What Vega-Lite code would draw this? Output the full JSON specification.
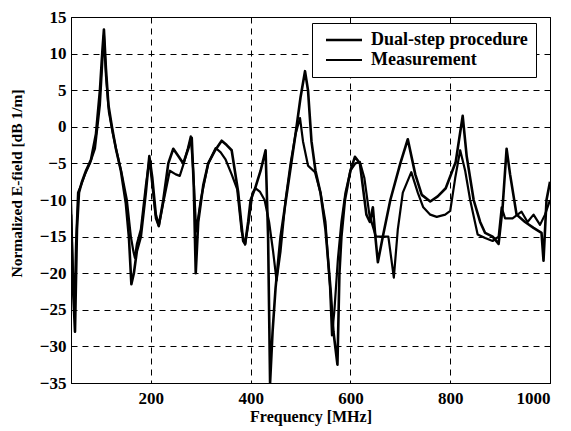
{
  "$schema": "https://vega.github.io/schema/vega-lite/v6.json",
  "width": 479,
  "height": 366,
  "autosize": {"type": "none"},
  "padding": {"left": 71, "top": 17, "right": 21, "bottom": 48},
  "background": "white",
  "config": {
    "view": {"stroke": "black", "strokeWidth": 1},
    "font": "Liberation Serif"
  },
  "data": {"values": [
    {"s":"Dual-step procedure","f":40,"v":-12},{"s":"Dual-step procedure","f":44,"v":-22},{"s":"Dual-step procedure","f":48,"v":-28},{"s":"Dual-step procedure","f":52,"v":-14},{"s":"Dual-step procedure","f":56,"v":-9},{"s":"Dual-step procedure","f":62,"v":-7.5},{"s":"Dual-step procedure","f":70,"v":-6},{"s":"Dual-step procedure","f":80,"v":-4.5},{"s":"Dual-step procedure","f":90,"v":-1},{"s":"Dual-step procedure","f":98,"v":5},{"s":"Dual-step procedure","f":103,"v":10.5},{"s":"Dual-step procedure","f":106,"v":13.3},{"s":"Dual-step procedure","f":110,"v":8},{"s":"Dual-step procedure","f":115,"v":3},{"s":"Dual-step procedure","f":122,"v":0},{"s":"Dual-step procedure","f":130,"v":-3},{"s":"Dual-step procedure","f":140,"v":-6},{"s":"Dual-step procedure","f":150,"v":-10.5},{"s":"Dual-step procedure","f":156,"v":-15},{"s":"Dual-step procedure","f":161,"v":-21.5},{"s":"Dual-step procedure","f":166,"v":-20},{"s":"Dual-step procedure","f":172,"v":-17},{"s":"Dual-step procedure","f":180,"v":-15},{"s":"Dual-step procedure","f":190,"v":-9},{"s":"Dual-step procedure","f":197,"v":-4},{"s":"Dual-step procedure","f":203,"v":-7},{"s":"Dual-step procedure","f":210,"v":-12},{"s":"Dual-step procedure","f":216,"v":-13.5},{"s":"Dual-step procedure","f":225,"v":-10},{"s":"Dual-step procedure","f":235,"v":-5},{"s":"Dual-step procedure","f":245,"v":-3},{"s":"Dual-step procedure","f":255,"v":-4},{"s":"Dual-step procedure","f":265,"v":-5},{"s":"Dual-step procedure","f":275,"v":-3},{"s":"Dual-step procedure","f":282,"v":-1.5},{"s":"Dual-step procedure","f":286,"v":-8},{"s":"Dual-step procedure","f":290,"v":-20},{"s":"Dual-step procedure","f":295,"v":-13},{"s":"Dual-step procedure","f":305,"v":-8},{"s":"Dual-step procedure","f":315,"v":-5},{"s":"Dual-step procedure","f":329,"v":-3.2},{"s":"Dual-step procedure","f":342,"v":-1.9},{"s":"Dual-step procedure","f":352,"v":-2.5},{"s":"Dual-step procedure","f":362,"v":-3.2},{"s":"Dual-step procedure","f":375,"v":-8.9},{"s":"Dual-step procedure","f":385,"v":-15.6},{"s":"Dual-step procedure","f":389,"v":-16},{"s":"Dual-step procedure","f":395,"v":-13},{"s":"Dual-step procedure","f":400,"v":-10},{"s":"Dual-step procedure","f":409,"v":-8.4},{"s":"Dual-step procedure","f":420,"v":-6},{"s":"Dual-step procedure","f":430,"v":-3.2},{"s":"Dual-step procedure","f":435,"v":-15},{"s":"Dual-step procedure","f":439,"v":-35},{"s":"Dual-step procedure","f":444,"v":-28},{"s":"Dual-step procedure","f":450,"v":-22},{"s":"Dual-step procedure","f":460,"v":-15},{"s":"Dual-step procedure","f":475,"v":-8},{"s":"Dual-step procedure","f":490,"v":-1},{"s":"Dual-step procedure","f":500,"v":4},{"s":"Dual-step procedure","f":509,"v":7.6},{"s":"Dual-step procedure","f":515,"v":5},{"s":"Dual-step procedure","f":522,"v":-2},{"s":"Dual-step procedure","f":530,"v":-6},{"s":"Dual-step procedure","f":540,"v":-9},{"s":"Dual-step procedure","f":550,"v":-14},{"s":"Dual-step procedure","f":560,"v":-22},{"s":"Dual-step procedure","f":566,"v":-28},{"s":"Dual-step procedure","f":574,"v":-32.5},{"s":"Dual-step procedure","f":578,"v":-20},{"s":"Dual-step procedure","f":582,"v":-15},{"s":"Dual-step procedure","f":589,"v":-10},{"s":"Dual-step procedure","f":600,"v":-6},{"s":"Dual-step procedure","f":609,"v":-4.1},{"s":"Dual-step procedure","f":619,"v":-5},{"s":"Dual-step procedure","f":632,"v":-12},{"s":"Dual-step procedure","f":639,"v":-13},{"s":"Dual-step procedure","f":645,"v":-11},{"s":"Dual-step procedure","f":650,"v":-15},{"s":"Dual-step procedure","f":655,"v":-18.5},{"s":"Dual-step procedure","f":665,"v":-15},{"s":"Dual-step procedure","f":680,"v":-10},{"s":"Dual-step procedure","f":700,"v":-5},{"s":"Dual-step procedure","f":715,"v":-1.7},{"s":"Dual-step procedure","f":730,"v":-6.5},{"s":"Dual-step procedure","f":743,"v":-9.3},{"s":"Dual-step procedure","f":760,"v":-10.2},{"s":"Dual-step procedure","f":775,"v":-9.5},{"s":"Dual-step procedure","f":791,"v":-8.4},{"s":"Dual-step procedure","f":811,"v":-4.8},{"s":"Dual-step procedure","f":825,"v":1.5},{"s":"Dual-step procedure","f":833,"v":-4},{"s":"Dual-step procedure","f":847,"v":-10},{"s":"Dual-step procedure","f":860,"v":-13},{"s":"Dual-step procedure","f":870,"v":-14.5},{"s":"Dual-step procedure","f":885,"v":-15},{"s":"Dual-step procedure","f":897,"v":-16},{"s":"Dual-step procedure","f":905,"v":-11},{"s":"Dual-step procedure","f":913,"v":-3},{"s":"Dual-step procedure","f":920,"v":-6.5},{"s":"Dual-step procedure","f":933,"v":-12},{"s":"Dual-step procedure","f":950,"v":-13},{"s":"Dual-step procedure","f":967,"v":-13.8},{"s":"Dual-step procedure","f":983,"v":-14.5},{"s":"Dual-step procedure","f":987,"v":-18.3},{"s":"Dual-step procedure","f":993,"v":-10},{"s":"Dual-step procedure","f":1000,"v":-7.5},
    {"s":"Measurement","f":40,"v":-10},{"s":"Measurement","f":44,"v":-20},{"s":"Measurement","f":47,"v":-25},{"s":"Measurement","f":50,"v":-16},{"s":"Measurement","f":54,"v":-9},{"s":"Measurement","f":60,"v":-8},{"s":"Measurement","f":68,"v":-6.5},{"s":"Measurement","f":78,"v":-5},{"s":"Measurement","f":88,"v":-3},{"s":"Measurement","f":98,"v":3},{"s":"Measurement","f":103,"v":9},{"s":"Measurement","f":106,"v":12.5},{"s":"Measurement","f":110,"v":7},{"s":"Measurement","f":116,"v":2},{"s":"Measurement","f":124,"v":-1},{"s":"Measurement","f":132,"v":-3.5},{"s":"Measurement","f":142,"v":-6.5},{"s":"Measurement","f":152,"v":-10},{"s":"Measurement","f":160,"v":-15},{"s":"Measurement","f":165,"v":-17},{"s":"Measurement","f":168,"v":-17.9},{"s":"Measurement","f":172,"v":-16},{"s":"Measurement","f":180,"v":-14},{"s":"Measurement","f":190,"v":-8},{"s":"Measurement","f":197,"v":-4.5},{"s":"Measurement","f":203,"v":-8},{"s":"Measurement","f":210,"v":-12.5},{"s":"Measurement","f":216,"v":-13.6},{"s":"Measurement","f":226,"v":-10},{"s":"Measurement","f":238,"v":-6},{"s":"Measurement","f":250,"v":-6.5},{"s":"Measurement","f":258,"v":-6.7},{"s":"Measurement","f":266,"v":-5},{"s":"Measurement","f":274,"v":-3},{"s":"Measurement","f":280,"v":-1.3},{"s":"Measurement","f":285,"v":-6},{"s":"Measurement","f":291,"v":-14.3},{"s":"Measurement","f":300,"v":-10},{"s":"Measurement","f":315,"v":-5},{"s":"Measurement","f":330,"v":-2.9},{"s":"Measurement","f":340,"v":-3.5},{"s":"Measurement","f":350,"v":-4.5},{"s":"Measurement","f":362,"v":-6.5},{"s":"Measurement","f":373,"v":-8.5},{"s":"Measurement","f":382,"v":-14.3},{"s":"Measurement","f":389,"v":-16.1},{"s":"Measurement","f":396,"v":-13},{"s":"Measurement","f":404,"v":-9},{"s":"Measurement","f":410,"v":-8.4},{"s":"Measurement","f":419,"v":-8.9},{"s":"Measurement","f":428,"v":-10},{"s":"Measurement","f":437,"v":-13},{"s":"Measurement","f":445,"v":-17},{"s":"Measurement","f":452,"v":-21},{"s":"Measurement","f":460,"v":-17},{"s":"Measurement","f":470,"v":-10},{"s":"Measurement","f":480,"v":-5},{"s":"Measurement","f":490,"v":-1},{"s":"Measurement","f":499,"v":1.2},{"s":"Measurement","f":505,"v":-2},{"s":"Measurement","f":515,"v":-5.3},{"s":"Measurement","f":529,"v":-6.2},{"s":"Measurement","f":540,"v":-9},{"s":"Measurement","f":550,"v":-13},{"s":"Measurement","f":559,"v":-21.9},{"s":"Measurement","f":563,"v":-28.5},{"s":"Measurement","f":568,"v":-25},{"s":"Measurement","f":575,"v":-18},{"s":"Measurement","f":582,"v":-13},{"s":"Measurement","f":590,"v":-9},{"s":"Measurement","f":600,"v":-6},{"s":"Measurement","f":610,"v":-5},{"s":"Measurement","f":619,"v":-4.8},{"s":"Measurement","f":628,"v":-7},{"s":"Measurement","f":638,"v":-12},{"s":"Measurement","f":651,"v":-15},{"s":"Measurement","f":665,"v":-15},{"s":"Measurement","f":676,"v":-15},{"s":"Measurement","f":687,"v":-20.6},{"s":"Measurement","f":695,"v":-14},{"s":"Measurement","f":705,"v":-9},{"s":"Measurement","f":722,"v":-6.2},{"s":"Measurement","f":735,"v":-9},{"s":"Measurement","f":746,"v":-11},{"s":"Measurement","f":760,"v":-12},{"s":"Measurement","f":773,"v":-12.3},{"s":"Measurement","f":790,"v":-12},{"s":"Measurement","f":800,"v":-11.5},{"s":"Measurement","f":810,"v":-7},{"s":"Measurement","f":820,"v":-3.2},{"s":"Measurement","f":830,"v":-6},{"s":"Measurement","f":840,"v":-10},{"s":"Measurement","f":855,"v":-14.7},{"s":"Measurement","f":870,"v":-15.2},{"s":"Measurement","f":885,"v":-15.6},{"s":"Measurement","f":897,"v":-15},{"s":"Measurement","f":903,"v":-11},{"s":"Measurement","f":910,"v":-12.5},{"s":"Measurement","f":925,"v":-12.5},{"s":"Measurement","f":943,"v":-11.6},{"s":"Measurement","f":955,"v":-13},{"s":"Measurement","f":967,"v":-12},{"s":"Measurement","f":980,"v":-13.4},{"s":"Measurement","f":990,"v":-12},{"s":"Measurement","f":1000,"v":-10}
  ]},
  "mark": {"type": "line", "clip": true, "strokeJoin": "round"},
  "encoding": {
    "x": {
      "field": "f", "type": "quantitative",
      "scale": {"domain": [40, 1000], "nice": false, "zero": false},
      "axis": {
        "title": "Frequency [MHz]", "values": [200, 400, 600, 800, 1000], "format": "d",
        "grid": true, "gridColor": "black", "gridDash": [6, 5], "gridOpacity": 1, "gridWidth": 1,
        "domainColor": "black", "tickColor": "black", "tickSize": 0,
        "labelFont": "Liberation Serif", "labelFontSize": 17, "labelFontWeight": "bold", "labelColor": "black", "labelPadding": 7,
        "titleFont": "Liberation Serif", "titleFontSize": 16, "titleFontWeight": "bold", "titleColor": "black", "titlePadding": 2
      }
    },
    "y": {
      "field": "v", "type": "quantitative",
      "scale": {"domain": [-35, 15], "nice": false, "zero": false},
      "axis": {
        "title": "Normalized E-field [dB 1/m]", "values": [-35, -30, -25, -20, -15, -10, -5, 0, 5, 10, 15],
        "grid": true, "gridColor": "black", "gridDash": [6, 5], "gridOpacity": 1, "gridWidth": 1,
        "domainColor": "black", "tickColor": "black", "tickSize": 0,
        "labelFont": "Liberation Serif", "labelFontSize": 17, "labelFontWeight": "bold", "labelColor": "black", "labelPadding": 5,
        "titleFont": "Liberation Serif", "titleFontSize": 15.5, "titleFontWeight": "bold", "titleColor": "black", "titlePadding": 15, "titleY": 166
      }
    },
    "color": {
      "field": "s", "type": "nominal",
      "scale": {"domain": ["Dual-step procedure", "Measurement"], "range": ["black", "black"]},
      "legend": {
        "title": null, "orient": "none", "legendX": 241, "legendY": 6,
        "fillColor": "white", "strokeColor": "black", "padding": 8,
        "symbolType": "M-0.5,0H5.5", "symbolSize": 144, "symbolStrokeWidth": 2.5,
        "labelFont": "Liberation Serif", "labelFontSize": 18, "labelFontWeight": "bold", "labelColor": "black",
        "rowPadding": 2, "labelOffset": 33
      }
    },
    "strokeWidth": {
      "field": "s", "type": "nominal",
      "scale": {"domain": ["Dual-step procedure", "Measurement"], "range": [2.6, 2.2]},
      "legend": null
    }
  }
}
